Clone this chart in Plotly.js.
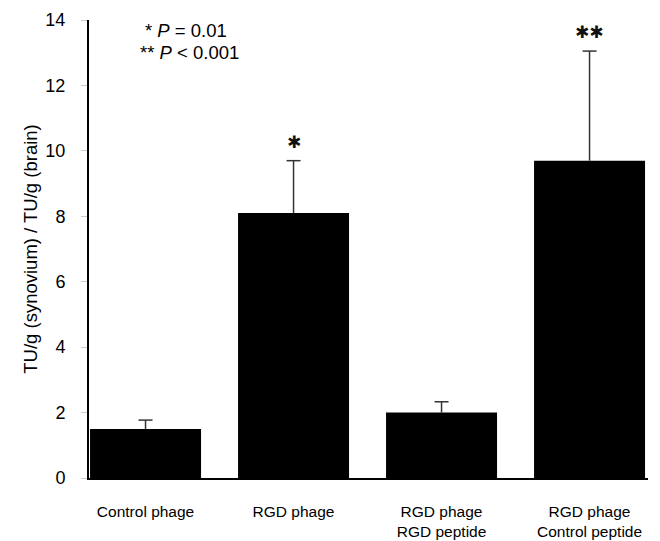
<!DOCTYPE html>
<html>
<head>
<meta charset="utf-8">
<script src="https://cdn.plot.ly/plotly-3.0.1.min.js"></script>
<style>html,body{margin:0;padding:0;background:#fff;}#chart{width:660px;height:541px;}</style>
</head>
<body>
<div id="chart"></div>
<script>
const categories = ["Control phage", "RGD phage", "RGD phage<br>RGD peptide", "RGD phage<br>Control peptide"];
const values = [1.5, 8.1, 2.0, 9.7];
const errorsUp = [0.27, 1.6, 0.33, 3.35];
const significance = ["", "✱", "", "✱✱"];
const yTicks = [0, 2, 4, 6, 8, 10, 12, 14];

const xIdx = categories.map((_, i) => i);

const barTrace = {
  type: "bar",
  x: xIdx,
  y: values,
  width: 0.75,
  marker: {color: "#000000", line: {width: 0}},
  hoverinfo: "skip"
};

// upper whiskers built from the data arrays
const whiskX = [], whiskY = [];
xIdx.forEach(i => { whiskX.push(i, i, null); whiskY.push(values[i], values[i] + errorsUp[i], null); });
const whiskerTrace = {
  type: "scatter", mode: "lines",
  x: whiskX, y: whiskY,
  line: {color: "#333333", width: 1.5},
  hoverinfo: "skip"
};
const capTrace = {
  type: "scatter", mode: "markers",
  x: xIdx, y: values.map((v, i) => v + errorsUp[i]),
  marker: {symbol: "line-ew-open", size: 10, color: "#333333", line: {color: "#333333", width: 1.5}},
  hoverinfo: "skip"
};

const annotations = [];
significance.forEach((s, i) => {
  if (s) {
    annotations.push({
      x: i, y: values[i] + errorsUp[i], xref: "x", yref: "y",
      text: s, showarrow: false, yanchor: "bottom", yshift: 7,
      font: {family: "DejaVu Sans", size: 17, color: "#111"}
    });
  }
});
annotations.push({
  x: 0.1735, y: 0.978, xref: "paper", yref: "paper", showarrow: false,
  text: "* <i>P</i> = 0.01", xanchor: "center", yanchor: "middle",
  font: {family: "Liberation Sans, Arial", size: 18.5, color: "#000"}
});
annotations.push({
  x: 0.18, y: 0.93, xref: "paper", yref: "paper", showarrow: false,
  text: "** <i>P</i> < 0.001", xanchor: "center", yanchor: "middle",
  font: {family: "Liberation Sans, Arial", size: 18.5, color: "#000"}
});

const layout = {
  width: 660, height: 541,
  margin: {l: 89, r: 12, t: 20, b: 63},
  paper_bgcolor: "#ffffff",
  plot_bgcolor: "#ffffff",
  showlegend: false,
  font: {family: "Liberation Sans, Arial", color: "#000"},
  xaxis: {
    range: [-0.382, 3.395],
    tickvals: xIdx,
    ticktext: categories,
    showgrid: false,
    zeroline: false,
    showline: true,
    linecolor: "#000",
    linewidth: 1.5,
    ticks: "",
    ticklabelstandoff: 19,
    tickfont: {family: "Liberation Sans, Arial", size: 15.5, color: "#000"}
  },
  yaxis: {
    range: [0, 14],
    tickvals: yTicks,
    ticktext: yTicks.map(String),
    showgrid: false,
    zeroline: false,
    showline: true,
    linecolor: "#000",
    linewidth: 2,
    ticks: "outside",
    ticklen: 18,
    tickcolor: "rgba(255,255,255,0)",
    tickwidth: 1,
    minor: {tickvals: yTicks, ticks: "outside", ticklen: 6, tickcolor: "#cccccc", tickwidth: 1, showgrid: false},
    tickfont: {family: "Liberation Sans, Arial", size: 18, color: "#000"},
    title: {text: "TU/g (synovium) / TU/g (brain)", font: {family: "Liberation Sans, Arial", size: 18.5, color: "#000"}, standoff: 3}
  },
  annotations: annotations
};

Plotly.newPlot("chart", [barTrace, whiskerTrace, capTrace], layout, {displayModeBar: false, staticPlot: true});
</script>
</body>
</html>
